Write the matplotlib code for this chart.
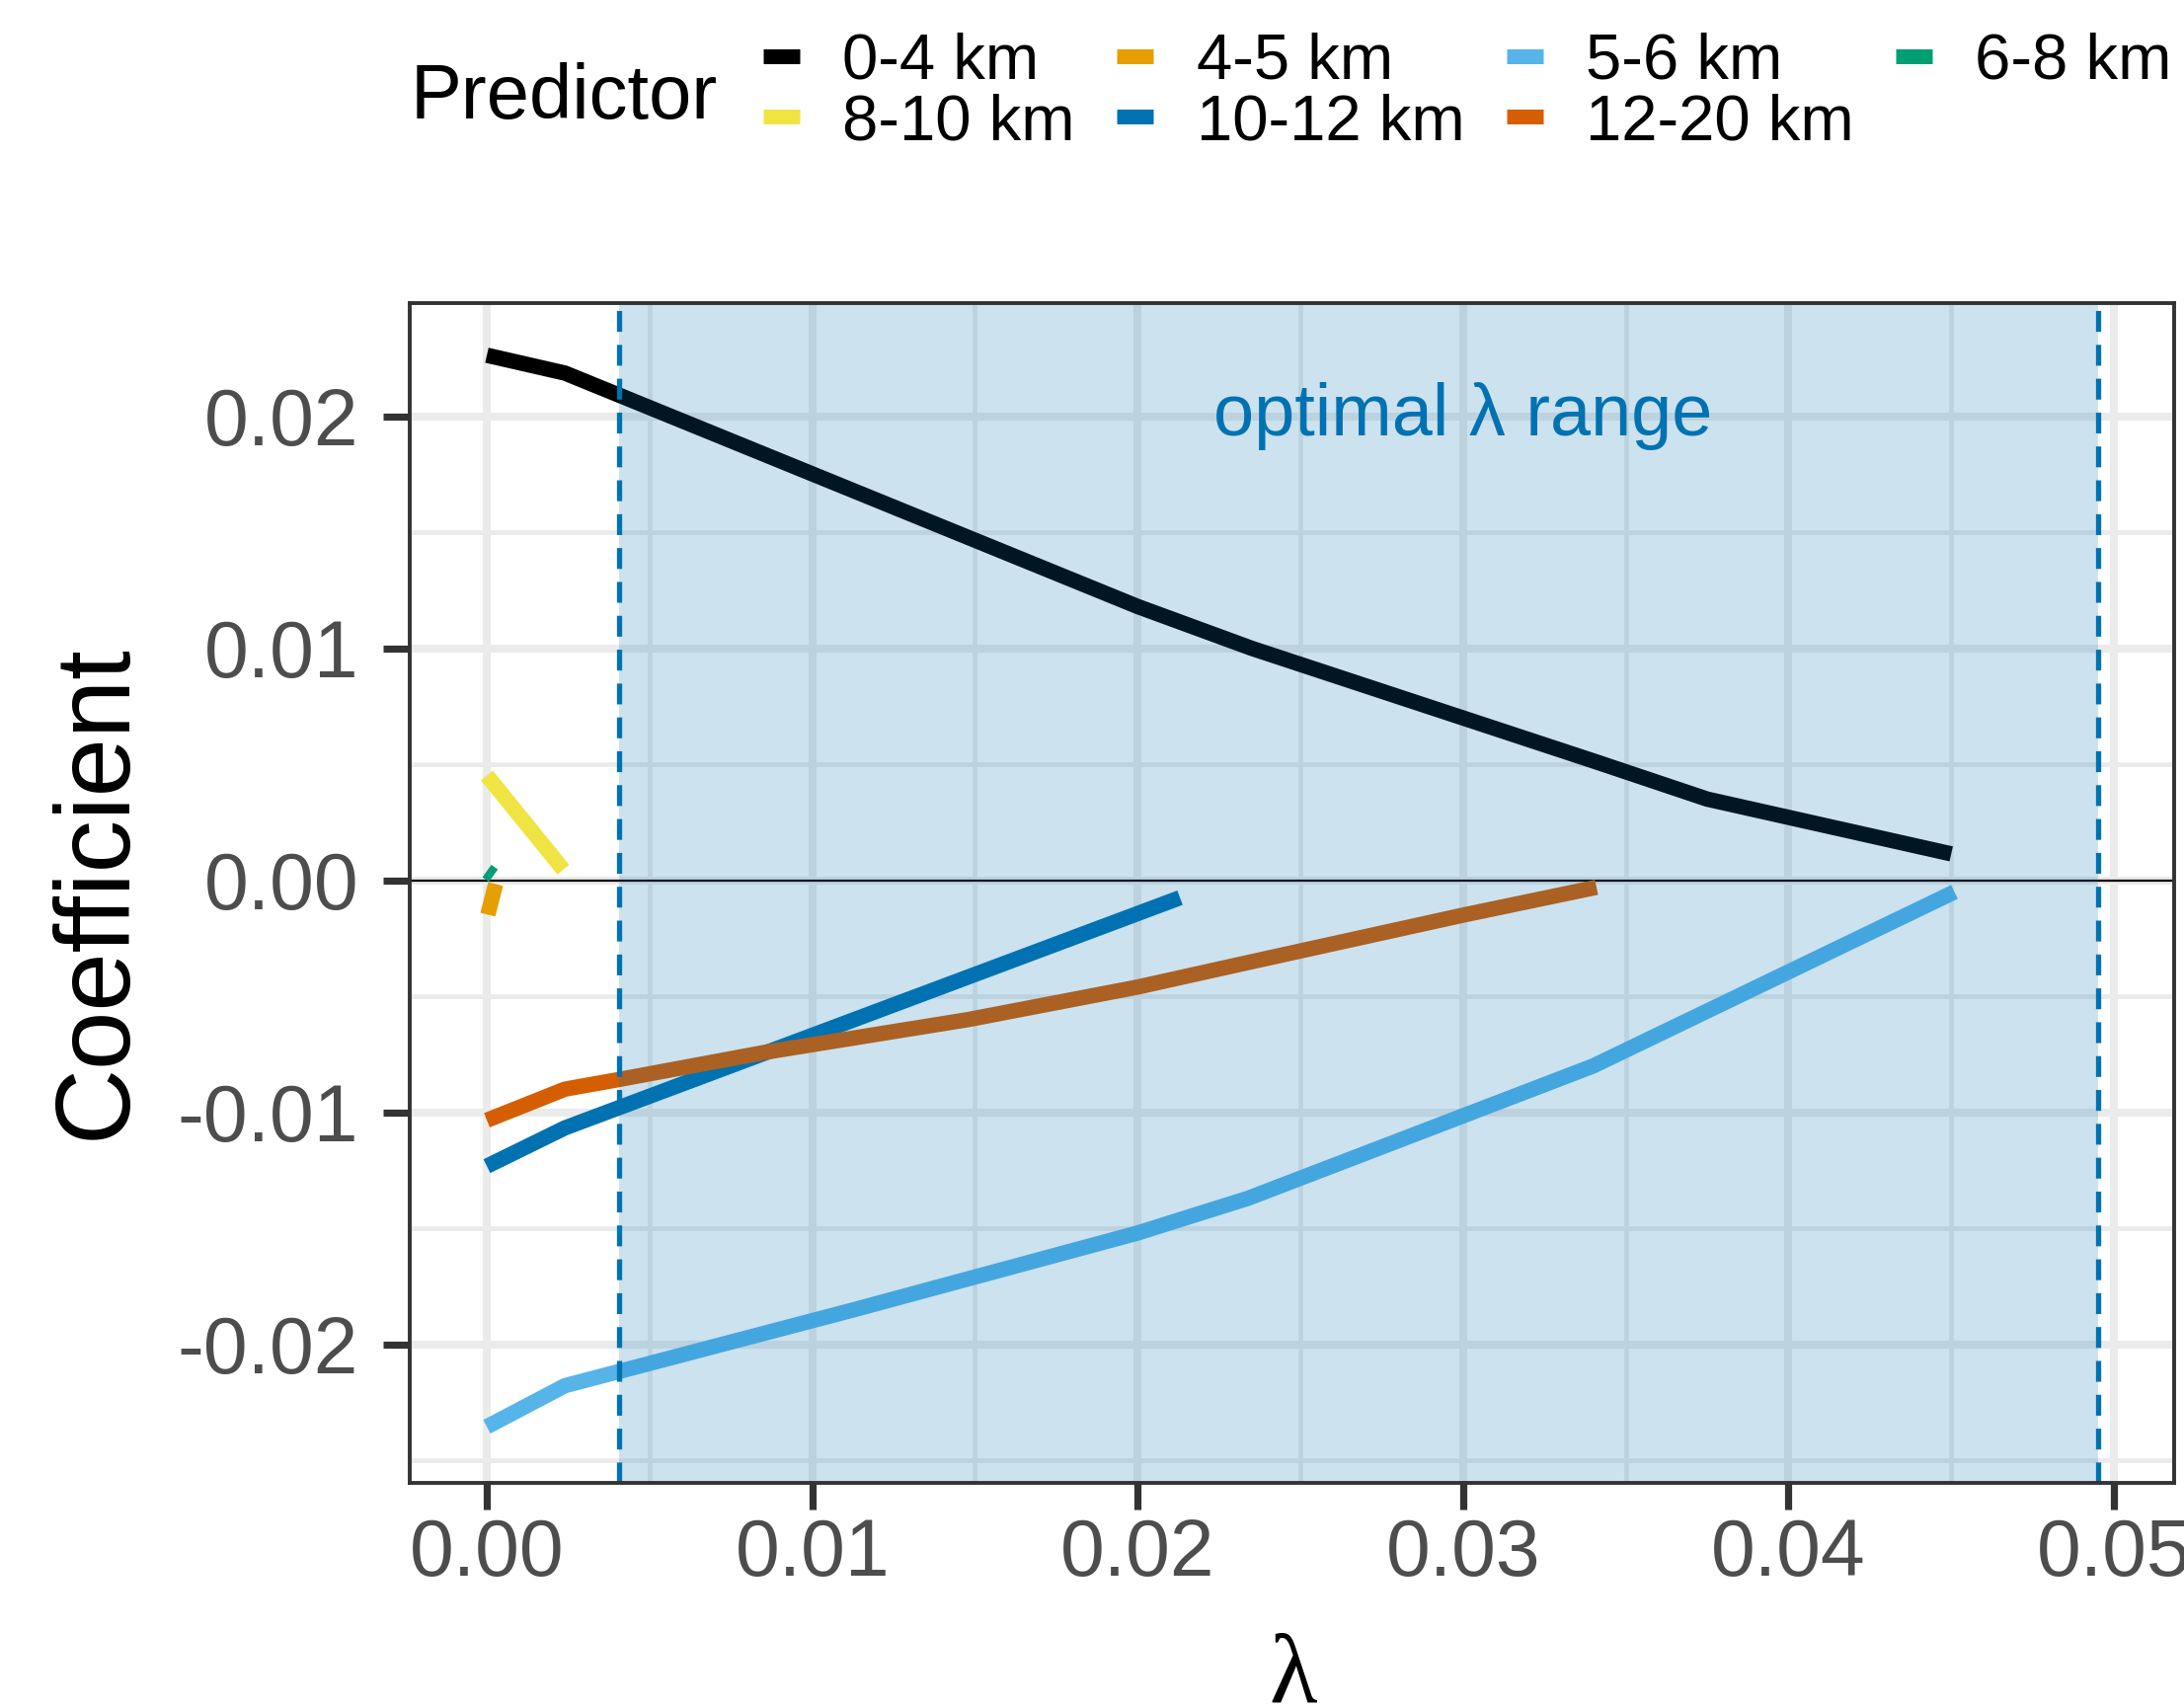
import matplotlib
matplotlib.use("Agg")
import matplotlib.pyplot as plt
from matplotlib.lines import Line2D
from matplotlib.ticker import MultipleLocator, FuncFormatter

plt.rcParams['font.family'] = ['Liberation Sans', 'DejaVu Sans']
plt.rcParams['axes.unicode_minus'] = False

# ---------------- data ----------------
predictors = ["0-4 km", "4-5 km", "5-6 km", "6-8 km", "8-10 km", "10-12 km", "12-20 km"]
colors = ["#000000", "#E69F00", "#56B4E9", "#009E73", "#F0E442", "#0072B2", "#D55E00"]

lam_04 = [0.0000, 0.0024, 0.0200, 0.0235, 0.0341, 0.0375, 0.0450]
coef_04 = [0.02263, 0.02186, 0.0118, 0.0100, 0.0051, 0.0035, 0.00114]

lam_45 = [0.00003, 0.00027]
coef_45 = [-0.00148, -0.00016]

lam_56 = [0.0000, 0.0024, 0.0113, 0.0200, 0.0234, 0.0340, 0.0451]
coef_56 = [-0.02355, -0.02178, -0.0185, -0.0152, -0.0137, -0.0080, -0.0005]

lam_68 = [0.0000, 0.0002]
coef_68 = [0.0004, 0.0002]

lam_810 = [0.0000, 0.00235]
coef_810 = [0.00452, 0.00046]

lam_1012 = [0.0000, 0.0024, 0.0213]
coef_1012 = [-0.01232, -0.01067, -0.00075]

lam_1220 = [0.0000, 0.0024, 0.0040, 0.0086, 0.0148, 0.0200, 0.0234, 0.0300, 0.0341]
coef_1220 = [-0.01034, -0.0090, -0.0086, -0.0074, -0.0060, -0.0046, -0.00354, -0.0015, -0.0003]

series_lam = [lam_04, lam_45, lam_56, lam_68, lam_810, lam_1012, lam_1220]
series_coef = [coef_04, coef_45, coef_56, coef_68, coef_810, coef_1012, coef_1220]

opt_lo, opt_hi = 0.00405, 0.0495
x_ticks = [0.00, 0.01, 0.02, 0.03, 0.04, 0.05]
y_ticks = [-0.02, -0.01, 0.00, 0.01, 0.02]

# ---------------- figure ----------------
W, H, DPI = 2212, 1729, 200
fig = plt.figure(figsize=(W / DPI, H / DPI), dpi=DPI)
ax = fig.add_axes([415 / W, 1 - 1502 / H, (2202 - 415) / W, (1502 - 306.7) / H])

ax.set_xlim(-0.00237, 0.05185)
ax.set_ylim(-0.02597, 0.02489)

ax.set_xticks(x_ticks)
ax.set_yticks(y_ticks)
ax.xaxis.set_minor_locator(MultipleLocator(0.005))
ax.yaxis.set_minor_locator(MultipleLocator(0.005))
fmt = FuncFormatter(lambda v, p: f"{v:.2f}".replace("-0.00", "0.00"))
ax.xaxis.set_major_formatter(fmt)
ax.yaxis.set_major_formatter(fmt)

ax.set_axisbelow(True)
ax.grid(which='major', color='#EBEBEB', lw=2.9, zorder=0)
ax.grid(which='minor', color='#EBEBEB', lw=1.7, zorder=0)

ax.tick_params(which='major', length=9.7, width=2.6, color='#333333',
               labelsize=29, labelcolor='#4D4D4D')
ax.tick_params(axis='x', which='major', pad=3)
ax.tick_params(axis='y', which='major', pad=9)
ax.tick_params(which='minor', length=0)
for sp in ax.spines.values():
    sp.set_color('#333333')
    sp.set_linewidth(1.4)
    sp.set_zorder(10)

ax.axhline(0, color='black', lw=0.8, zorder=1)

for lam, coef, col in zip(series_lam, series_coef, colors):
    ax.plot(lam, coef, color=col, lw=5.6, solid_capstyle='butt',
            solid_joinstyle='round', zorder=2)

ax.axvspan(opt_lo, opt_hi, color='#0072B2', alpha=0.2, lw=0, zorder=3)
for xv in (opt_lo, opt_hi):
    ax.axvline(xv, color='#0072B2', lw=1.9, linestyle=(0, (4, 2.5)), zorder=4)

ax.text(0.03, 0.02, "optimal λ range", color='#0072B2', fontsize=26.6,
        ha='center', va='center', zorder=5)

# axis titles
fig.text(127 / W, 1 - 903.5 / H, "Coefficient", rotation=90, rotation_mode='anchor',
         ha='center', va='baseline', fontsize=38.4, color='black')
fig.text(1310 / W, 1 - 1724 / H, "λ", ha='center', va='baseline', fontsize=36,
         family=['Liberation Serif', 'DejaVu Serif'], color='black')

# legend
fig.text(416 / W, 1 - 120 / H, "Predictor", ha='left', va='baseline', fontsize=28)
handles = [Line2D([0], [0], color=c, lw=5.4, solid_capstyle='butt') for c in colors]
order = [0, 4, 1, 5, 2, 6, 3]
fig.legend([handles[i] for i in order], [predictors[i] for i in order],
           ncol=4, loc='center left', bbox_to_anchor=(773 / W, 1 - 93.5 / H),
           frameon=False, fontsize=23.5, handlelength=0.57, handletextpad=0.66,
           columnspacing=0.65, labelspacing=0.02, borderpad=0, borderaxespad=0)

fig.savefig("out.png", dpi=DPI, facecolor='white')
